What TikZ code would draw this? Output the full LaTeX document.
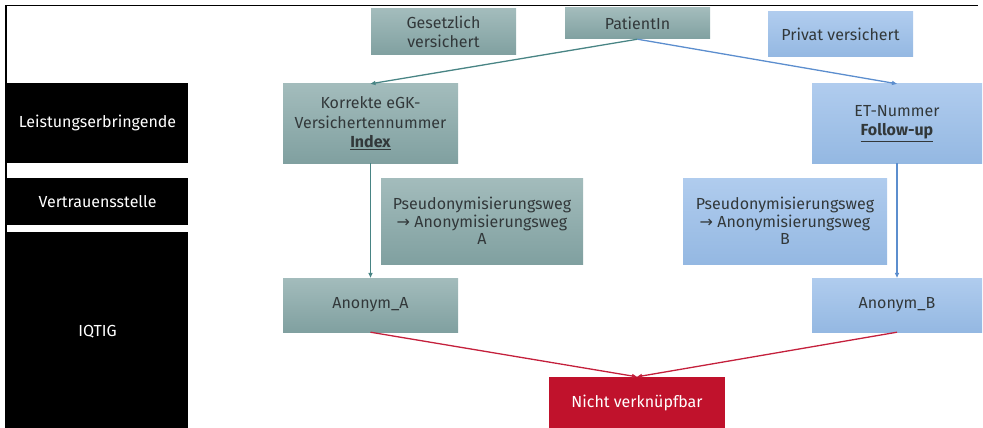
\documentclass[tikz,border=0pt]{standalone}
\usepackage{fontspec}
\setmainfont{Fira Sans}
\newfontfamily\arrowfont{DejaVu Sans}
\usetikzlibrary{arrows.meta}

\definecolor{tealtop}{RGB}{163,188,188}
\definecolor{tealbot}{RGB}{128,160,160}
\definecolor{bluetop}{RGB}{176,204,238}
\definecolor{bluebot}{RGB}{148,184,226}
\definecolor{nichtred}{RGB}{192,18,44}
\definecolor{tealline}{RGB}{72,132,132}
\definecolor{blueline}{RGB}{92,142,206}
\definecolor{redline}{RGB}{196,32,60}
\definecolor{boxtext}{RGB}{50,56,58}

\begin{document}
\begin{tikzpicture}[x=1pt,y=-1pt,
    tealbox/.style={top color=tealtop,bottom color=tealbot,text=boxtext,
      align=center,inner sep=0pt,font=\fontsize{16}{19.5}\selectfont},
    bluebox/.style={top color=bluetop,bottom color=bluebot,text=boxtext,
      align=center,inner sep=0pt,font=\fontsize{16}{19.5}\selectfont},
    rolebox/.style={fill=black,text=white,align=center,inner sep=0pt,
      minimum width=181,font=\fontsize{16}{19.5}\selectfont},
    tip/.style={-{Triangle[length=5pt,width=4pt]}}]

    \useasboundingbox (0,0) rectangle (983,428);

    % the frame on the top and on the left
    \draw[line width=1.6pt] (6,428) -- (6,5.5) -- (978,5.5);

    % the roles on the left
    \node[rolebox,minimum height=80] (lei) at (97.5,123)
    {Leistungserbringende};
    \node[rolebox,minimum height=47] (ver) at (97.5,201.5)
    {Vertrauensstelle};
    \fill[black] (7,232) rectangle (188,428);
    \node[text=white,font=\fontsize{16}{19.5}\selectfont] (iqt) at (97.5,332)
    {IQTIG};

    % the insurance boxes
    \node[tealbox,minimum width=145,minimum height=46] (ges) at (443.5,32)
    {Gesetzlich\\versichert};
    \node[tealbox,minimum width=145,minimum height=31] (pat) at (637.5,23.5)
    {PatientIn};
    \node[bluebox,minimum width=145,minimum height=45] (priv) at (840.5,34.5)
    {Privat versichert};

    % the numbers
    \node[tealbox,minimum width=175,minimum height=79] (kor) at (370.5,123.5)
    {Korrekte eGK-\\Versichertennummer\\\underline{\textbf{Index}}};
    \node[bluebox,minimum width=170,minimum height=79] (et) at (897,123.5)
    {ET-Nummer\\\underline{\textbf{Follow-up}}};

    % the two ways
    \node[tealbox,minimum width=202,minimum height=86,
    font=\fontsize{16}{17.5}\selectfont] (psa) at (482,221)
    {Pseudonymisierungsweg\\{\arrowfont\char"2192} Anonymisierungsweg\\A};
    \node[bluebox,minimum width=204,minimum height=86,
    font=\fontsize{16}{17.5}\selectfont] (psb) at (785,221)
    {Pseudonymisierungsweg\\{\arrowfont\char"2192} Anonymisierungsweg\\B};

    % the anonyms
    \node[tealbox,minimum width=175,minimum height=54] (ana) at (370.5,305)
    {Anonym\_A};
    \node[bluebox,minimum width=170,minimum height=54] (anb) at (897,305)
    {Anonym\_B};

    % the result
    \node[fill=nichtred,text=white,inner sep=0pt,minimum width=176,
    minimum height=51,font=\fontsize{16}{19.5}\selectfont] (nicht) at
    (637,402.5) {Nicht verknüpfbar};

    % the arrows
    \draw[tip,tealline,line width=1.3pt] (pat.south) -- (kor.north);
    \draw[tip,blueline,line width=1.3pt] (pat.south) -- (et.north);
    \draw[tip,tealline,line width=1.3pt] (kor.south) -- (ana.north);
    \draw[tip,blueline,line width=1.3pt] (et.south) -- (anb.north);
    \draw[tip,redline,line width=1.3pt] (ana.south) -- (nicht.north);
    \draw[tip,redline,line width=1.3pt] (anb.south) -- (nicht.north);
  \end{tikzpicture}
\end{document}
